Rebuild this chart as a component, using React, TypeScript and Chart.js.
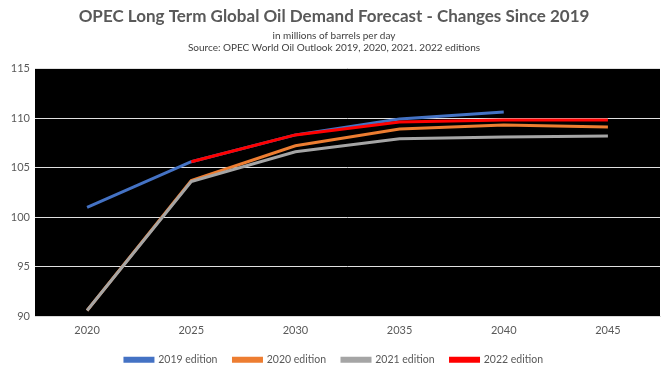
import React, { useEffect, useRef } from "react";
import { Chart, registerables } from "chart.js";

Chart.register(...registerables);

const years = ["2020", "2025", "2030", "2035", "2040", "2045"];
const ed2019 = [101.0, 105.6, 108.3, 109.9, 110.6, null];
const ed2020 = [90.6, 103.7, 107.2, 108.9, 109.3, 109.1];
const ed2021 = [90.6, 103.6, 106.6, 107.9, 108.1, 108.2];
const ed2022 = [null, 105.6, 108.3, 109.6, 109.8, 109.8];
const seriesNames = ["2019 edition", "2020 edition", "2021 edition", "2022 edition"];
const seriesColors = ["#4472C4", "#ED7D31", "#A5A5A5", "#FF0000"];

const blackArea = {
  id: "blackArea",
  beforeDraw(chart: any) {
    const { ctx, chartArea } = chart;
    if (!chartArea) return;
    ctx.save();
    ctx.fillStyle = "#000000";
    ctx.fillRect(chartArea.left, chartArea.top, chartArea.right - chartArea.left, chartArea.bottom - chartArea.top);
    ctx.restore();
  },
};

export default function App() {
  const ref = useRef<HTMLCanvasElement | null>(null);
  useEffect(() => {
    document.body.style.margin = "0";
    const font = "Lato, 'Open Sans', sans-serif";
    const data = [ed2019, ed2020, ed2021, ed2022];
    const chart = new Chart(ref.current as HTMLCanvasElement, {
      type: "line",
      data: {
        labels: years,
        datasets: data.map((d, i) => ({
          label: seriesNames[i],
          data: d,
          borderColor: seriesColors[i],
          backgroundColor: seriesColors[i],
          borderWidth: 3,
          pointRadius: 0,
          tension: 0,
          order: 3 - i,
        })),
      },
      plugins: [blackArea],
      options: {
        animation: false,
        responsive: false,
        maintainAspectRatio: false,
        layout: { padding: { left: 8, right: 12, top: 6, bottom: 1 } },
        plugins: {
          title: {
            display: true,
            text: "OPEC Long Term Global Oil Demand Forecast - Changes Since 2019",
            color: "#595959",
            font: { family: font, size: 17, weight: "bold" },
            padding: { top: 0, bottom: 3 },
          },
          subtitle: {
            display: true,
            text: ["in millions of barrels per day", "Source: OPEC World Oil Outlook 2019, 2020, 2021. 2022 editions"],
            color: "#404040",
            font: { family: font, size: 10 },
            padding: { top: 0, bottom: 15 },
          },
          legend: {
            position: "bottom",
            labels: {
              color: "#595959",
              font: { family: font, size: 10.5 },
              boxWidth: 28,
              boxHeight: 3,
              padding: 16,
              sort: (a: any, b: any) => a.datasetIndex - b.datasetIndex,
            },
          },
          tooltip: { enabled: false },
        },
        scales: {
          x: {
            offset: true,
            afterFit: (s: any) => { s.height = 22; },
            grid: { display: false, drawTicks: false },
            border: { color: "#d9d9d9" },
            ticks: { color: "#595959", font: { family: font, size: 11 }, padding: 7 },
          },
          y: {
            min: 90,
            max: 115,
            afterFit: (s: any) => { s.width = 27; },
            grid: { color: "#e0e0e0", drawTicks: false, lineWidth: 1 },
            border: { display: false },
            ticks: { stepSize: 5, color: "#595959", font: { family: font, size: 11 }, padding: 5 },
          },
        },
      },
    });
    return () => chart.destroy();
  }, []);
  return <canvas ref={ref} width={672} height={376} style={{ display: "block" }} />;
}
